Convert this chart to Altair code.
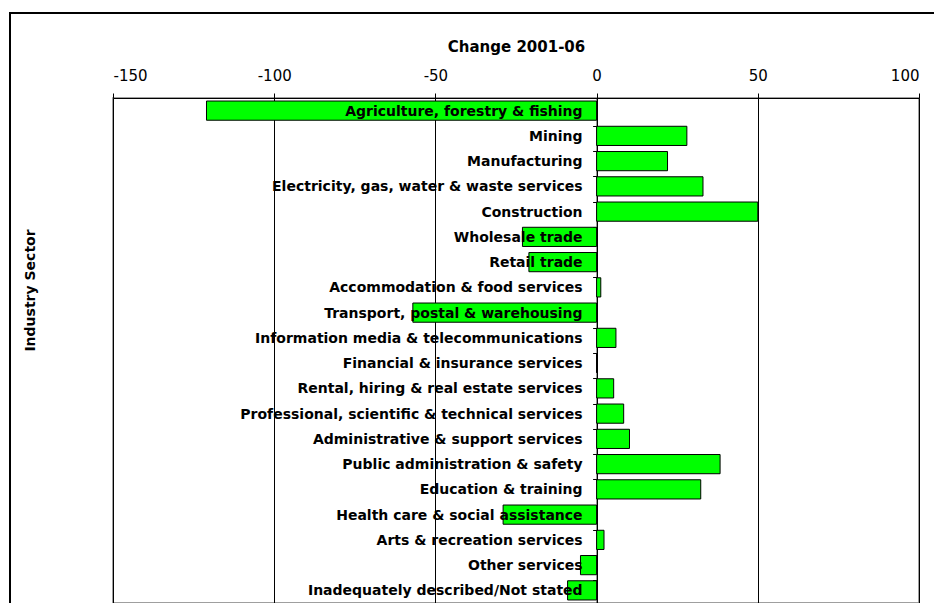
import altair as alt
import pandas as pd

sectors = [
    "Agriculture, forestry & fishing",
    "Mining",
    "Manufacturing",
    "Electricity, gas, water & waste services",
    "Construction",
    "Wholesale trade",
    "Retail trade",
    "Accommodation & food services",
    "Transport, postal & warehousing",
    "Information media & telecommunications",
    "Financial & insurance services",
    "Rental, hiring & real estate services",
    "Professional, scientific & technical services",
    "Administrative & support services",
    "Public administration & safety",
    "Education & training",
    "Health care & social assistance",
    "Arts & recreation services",
    "Other services",
    "Inadequately described/Not stated",
]
changes = [-121, 28, 22, 33, 50, -23, -21, 1.3, -57, 6, 0, 5.3, 8.4, 10.2, 38.3, 32.3, -29, 2.3, -5, -9]
x_ticks = [-150, -100, -50, 0, 50, 100]

df = pd.DataFrame({"sector": sectors, "change": changes})

W, H = 806, 505
LEFT, TOP = 105, 90

y_enc = alt.Y(
    "sector:N",
    sort=sectors,
    scale=alt.Scale(paddingInner=0.24, paddingOuter=0.12),
    axis=alt.Axis(
        orient="left",
        offset=-(W * 150 / 250),
        labels=False,
        ticks=True,
        tickSize=4,
        tickColor="black",
        bandPosition=0,
        domainColor="black",
        grid=False,
        title="Industry Sector",
        titleX=-(W * 150 / 250) - 83,
        titleY=192,
        titleAngle=270,
        titleAlign="center",
        titleBaseline="middle",
        titleFont="DejaVu Sans",
        titleFontSize=14,
        titleFontWeight="bold",
        titleColor="black",
    ),
)

bars = alt.Chart(df).mark_bar(
    color="#00FF00", stroke="black", strokeWidth=1
).encode(
    x=alt.X(
        "change:Q",
        scale=alt.Scale(domain=[-150, 100], nice=False, zero=False),
        axis=alt.Axis(
            orient="top",
            values=x_ticks,
            labelExpr="'' + datum.value",
            grid=True,
            gridColor="black",
            gridWidth=1,
            domainColor="black",
            tickColor="black",
            tickSize=5,
            labelFont="DejaVu Sans",
            labelFontSize=15,
            labelColor="black",
            labelPadding=10,
            title="Change 2001-06",
            titleFont="DejaVu Sans",
            titleFontSize=15,
            titleFontWeight="bold",
            titleColor="black",
            titlePadding=14,
        ),
    ),
    x2=alt.datum(0),
    y=y_enc,
)

labels = alt.Chart(df).mark_text(
    align="right", baseline="middle", dx=-14, dy=1,
    font="DejaVu Sans", fontSize=14, fontWeight="bold", color="black",
).encode(
    x=alt.datum(0),
    y=alt.Y("sector:N", sort=sectors),
    text="sector:N",
)

frame = alt.Chart(df).mark_rect(
    fill=None, stroke="black", strokeWidth=1.5, clip=False
).encode(
    x=alt.value(-103), x2=alt.value(W + 200),
    y=alt.value(-85), y2=alt.value(H + 200),
)

chart = alt.layer(bars, labels, frame).properties(
    width=W, height=H,
    autosize=alt.AutoSizeParams(type="none"),
    padding={"left": LEFT, "top": TOP, "right": 942 - 16 - LEFT - W, "bottom": 0},
).configure_view(stroke="#808080", strokeWidth=1.5)

chart.save("out.html", embed_options={"renderer": "svg", "actions": False})
